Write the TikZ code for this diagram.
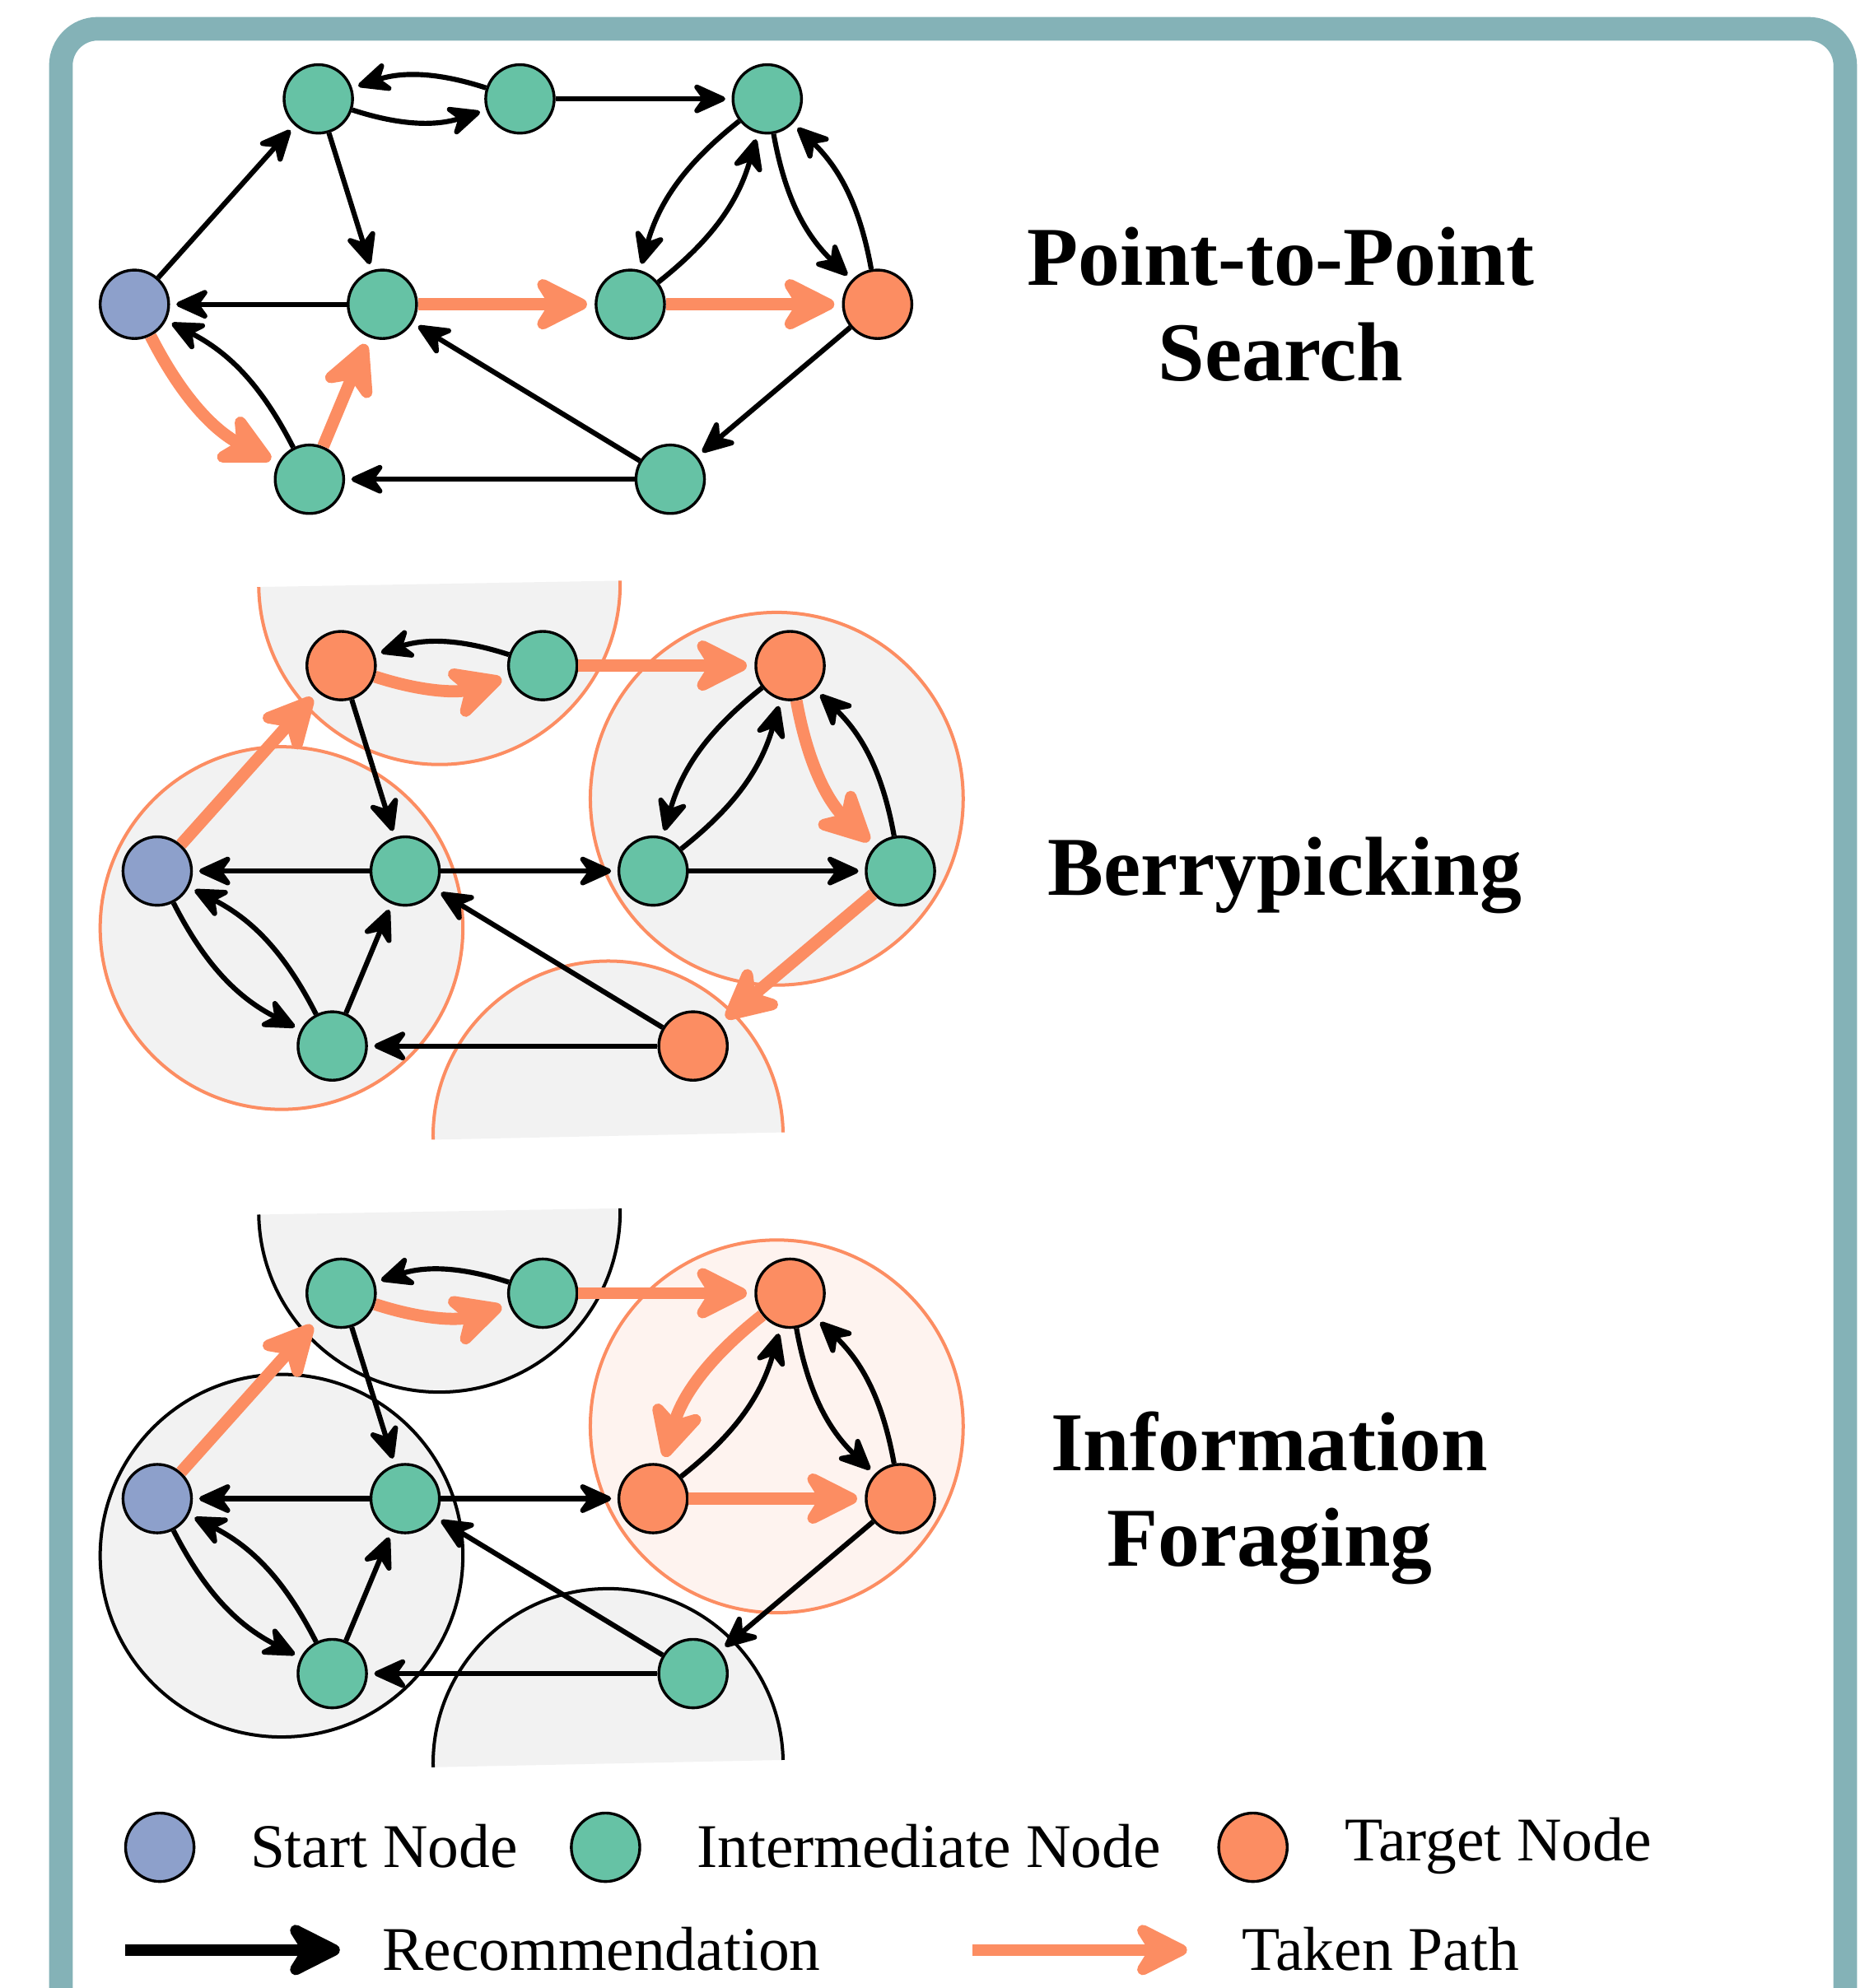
\documentclass[tikz,border=0pt]{standalone}
\usepackage{fontspec}
\setmainfont{Liberation Serif}
\usepackage{xcolor}
\usepackage{tikz}
\usetikzlibrary{arrows.meta}
\definecolor{setgreen}{HTML}{66C2A5}
\definecolor{setorange}{HTML}{FC8D62}
\definecolor{setblue}{HTML}{8DA0CB}
\definecolor{frameteal}{HTML}{84B2B7}
\definecolor{patchgray}{HTML}{F2F2F2}
\definecolor{patchpeach}{HTML}{FEF3EF}

\begin{document}
\begin{tikzpicture}[x=0.5pt,y=0.5pt,
  vtx/.style={circle,draw=black,line width=1.1pt,minimum size=27pt,inner sep=0pt},
  start/.style={vtx,fill=setblue}, mid/.style={vtx,fill=setgreen}, goal/.style={vtx,fill=setorange},
  rec/.style={-{Stealth[length=15.5pt,width=14pt,inset=5pt,round]},line width=2pt,shorten >=2.5pt},
  took/.style={-{Stealth[length=26pt,width=26pt,inset=8pt,round]},draw=setorange,line width=4.8pt,shorten >=3pt},
  recbig/.style={-{Stealth[length=26pt,width=26pt,inset=8pt,round]},line width=4.6pt},
  tookbig/.style={recbig,draw=setorange},
  rim/.style={line width=1.3pt},
  ttl/.style={font=\bfseries\fontsize{33}{40}\selectfont,anchor=base,inner sep=0pt},
  lgd/.style={font=\fontsize{24.5}{29}\selectfont,anchor=base west,inner sep=0pt}]
  \useasboundingbox (0,0) rectangle (1470,-1568);
  \clip (0,0) rectangle (1470,-1568);
  \draw[frameteal,line width=9.3pt,rounded corners=14.5pt] (48,-1660) rectangle (1455,-22.7);

  % point-to-point search
  \begin{scope}[shift={(106,-240)}]
    \node[start] (s1) at (0,0) {};
    \node[mid] (a1) at (145,162) {};
    \node[mid] (b1) at (304,162) {};
    \node[mid] (c1) at (499,162) {};
    \node[mid] (d1) at (195.5,0) {};
    \node[mid] (e1) at (391,0) {};
    \node[goal] (t1) at (586,0) {};
    \node[mid] (f1) at (138,-138) {};
    \node[mid] (g1) at (422.5,-138) {};
  \end{scope}
  \draw[rec] (b1) to[bend right=18] (a1); \draw[rec] (a1) to[bend right=18] (b1);
  \draw[rec] (b1)--(c1); \draw[rec] (s1)--(a1); \draw[rec] (a1)--(d1); \draw[rec] (d1)--(s1);
  \draw[took] (d1)--(e1); \draw[took] (e1)--(t1);
  \draw[rec] (c1) to[bend right=18] (e1); \draw[rec] (e1) to[bend right=18] (c1);
  \draw[rec] (c1) to[bend right=18] (t1); \draw[rec] (t1) to[bend right=18] (c1);
  \draw[rec] (t1)--(g1); \draw[rec] (g1)--(d1); \draw[rec] (g1)--(f1);
  \draw[took] (s1) to[bend right=18] (f1); \draw[rec] (f1) to[bend right=18] (s1);
  \draw[took] (f1)--(d1);
  \node[ttl] (ttl1) at (1010,-225) {Point-to-Point};
  \node[ttl] (ttl1b) at (1010,-300.6) {Search};

  % berrypicking
  \begin{scope}[shift={(124,-687)}]
    \fill[patchgray] (222.5,226.5) ++(181:142.5) arc[start angle=181,end angle=361,radius=142.5] -- cycle;
    \fill[patchgray] (355.5,-209) ++(1.2:138) arc[start angle=1.2,end angle=181.2,radius=138] -- cycle;
    \fill[patchgray] (98,-45) circle[radius=143];
    \fill[patchgray] (488.5,57) circle[radius=147];
    \draw[rim,setorange] (222.5,226.5) ++(181:142.5) arc[start angle=181,end angle=361,radius=142.5];
    \draw[rim,setorange] (355.5,-209) ++(1.2:138) arc[start angle=1.2,end angle=181.2,radius=138];
    \draw[rim,setorange] (98,-45) circle[radius=143];
    \draw[rim,setorange] (488.5,57) circle[radius=147];
    \node[start] (s2) at (0,0) {};
    \node[goal] (a2) at (145,162) {};
    \node[mid] (b2) at (304,162) {};
    \node[goal] (c2) at (499,162) {};
    \node[mid] (d2) at (195.5,0) {};
    \node[mid] (e2) at (391,0) {};
    \node[mid] (t2) at (586,0) {};
    \node[mid] (f2) at (138,-138) {};
    \node[goal] (g2) at (422.5,-138) {};
  \end{scope}
  \draw[rec] (b2) to[bend right=18] (a2); \draw[took] (a2) to[bend right=18] (b2);
  \draw[took] (b2)--(c2); \draw[took] (s2)--(a2); \draw[rec] (a2)--(d2); \draw[rec] (d2)--(s2);
  \draw[rec] (d2)--(e2); \draw[rec] (e2)--(t2);
  \draw[rec] (c2) to[bend right=18] (e2); \draw[rec] (e2) to[bend right=18] (c2);
  \draw[took] (c2) to[bend right=18] (t2); \draw[rec] (t2) to[bend right=18] (c2);
  \draw[took] (t2)--(g2); \draw[rec] (g2)--(d2); \draw[rec] (g2)--(f2);
  \draw[rec] (s2) to[bend right=18] (f2); \draw[rec] (f2) to[bend right=18] (s2);
  \draw[rec] (f2)--(d2);
  \node[ttl] (ttl2) at (1013,-706) {Berrypicking};

  % information foraging
  \begin{scope}[shift={(124,-1182)}]
    \fill[patchgray] (222.5,226.5) ++(181:142.5) arc[start angle=181,end angle=361,radius=142.5] -- cycle;
    \fill[patchgray] (355.5,-209) ++(1.2:138) arc[start angle=1.2,end angle=181.2,radius=138] -- cycle;
    \fill[patchgray] (98,-45) circle[radius=143];
    \fill[patchpeach] (488.5,57) circle[radius=147];
    \draw[rim] (222.5,226.5) ++(181:142.5) arc[start angle=181,end angle=361,radius=142.5];
    \draw[rim] (355.5,-209) ++(1.2:138) arc[start angle=1.2,end angle=181.2,radius=138];
    \draw[rim] (98,-45) circle[radius=143];
    \draw[rim,setorange] (488.5,57) circle[radius=147];
    \node[start] (s3) at (0,0) {};
    \node[mid] (a3) at (145,162) {};
    \node[mid] (b3) at (304,162) {};
    \node[goal] (c3) at (499,162) {};
    \node[mid] (d3) at (195.5,0) {};
    \node[goal] (e3) at (391,0) {};
    \node[goal] (t3) at (586,0) {};
    \node[mid] (f3) at (138,-138) {};
    \node[mid] (g3) at (422.5,-138) {};
  \end{scope}
  \draw[rec] (b3) to[bend right=18] (a3); \draw[took] (a3) to[bend right=18] (b3);
  \draw[took] (b3)--(c3); \draw[took] (s3)--(a3); \draw[rec] (a3)--(d3); \draw[rec] (d3)--(s3);
  \draw[rec] (d3)--(e3); \draw[took] (e3)--(t3);
  \draw[took] (c3) to[bend right=18] (e3); \draw[rec] (e3) to[bend right=18] (c3);
  \draw[rec] (c3) to[bend right=18] (t3); \draw[rec] (t3) to[bend right=18] (c3);
  \draw[rec] (t3)--(g3); \draw[rec] (g3)--(d3); \draw[rec] (g3)--(f3);
  \draw[rec] (s3) to[bend right=18] (f3); \draw[rec] (f3) to[bend right=18] (s3);
  \draw[rec] (f3)--(d3);
  \node[ttl] (ttl3) at (1001,-1160) {Information};
  \node[ttl] (ttl3b) at (1001,-1235) {Foraging};

  % legend
  \node[start] (kstart) at (126,-1457) {};
  \node[lgd] (lstart) at (197,-1473) {Start Node};
  \node[mid] (kmid) at (477.5,-1457) {};
  \node[lgd] (lmid) at (549,-1473) {Intermediate Node};
  \node[goal] (kgoal) at (988,-1457) {};
  \node[lgd] (lgoal) at (1060,-1467.6) {Target Node};
  \coordinate (kr0) at (98.5,-1538); \coordinate (kr1) at (268,-1538);
  \coordinate (kt0) at (767,-1538); \coordinate (kt1) at (936,-1538);
  \draw[recbig] (kr0)--(kr1);
  \draw[tookbig] (kt0)--(kt1);
  \node[lgd] (lrec) at (301,-1554) {Recommendation};
  \node[lgd] (ltook) at (979,-1554) {Taken Path};
\end{tikzpicture}
\end{document}
